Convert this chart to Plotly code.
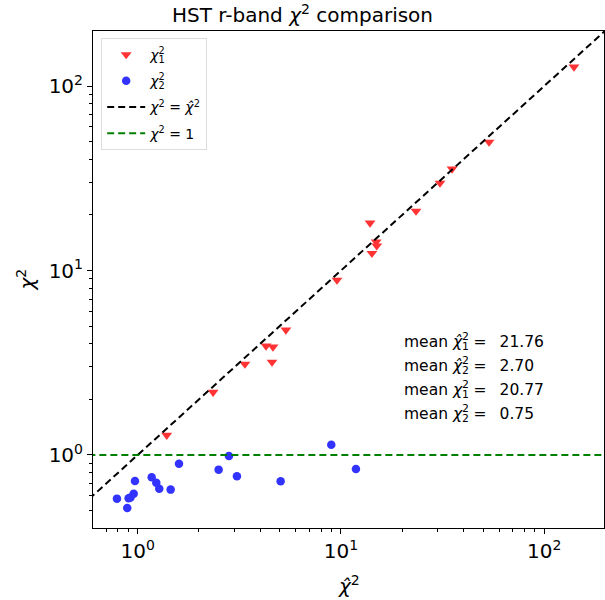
import math
import plotly.graph_objects as go

# ---------------- data ----------------
chi2_hat_1 = [140.0, 53.5, 35.2, 30.7, 23.4, 13.9, 14.9, 15.0, 14.2, 9.56, 5.36, 4.28, 4.63, 4.58, 3.37, 2.35, 1.39]
chi2_1 = [126.8, 49.7, 35.5, 29.8, 21.0, 18.1, 14.3, 13.6, 12.4, 8.88, 4.76, 3.90, 3.85, 3.19, 3.11, 2.19, 1.28]
chi2_hat_2 = [0.791, 0.889, 0.903, 0.922, 0.956, 0.970, 1.172, 1.235, 1.277, 1.453, 1.597, 2.502, 2.812, 3.078, 5.05, 8.96, 11.85]
chi2_2 = [0.580, 0.516, 0.582, 0.588, 0.617, 0.723, 0.757, 0.708, 0.657, 0.649, 0.897, 0.833, 0.988, 0.767, 0.720, 1.137, 0.840]
identity_span = [0.1, 1000.0]
unity_y = [1.0, 1.0]
x_range = [0.603, 196.7]
y_range = [0.402, 198.7]
tick_vals = [1, 10, 100]
tick_text = ["10<sup>0</sup>", "10<sup>1</sup>", "10<sup>2</sup>"]
STACK = "<sup style='letter-spacing:-0.64em'>2</sup><sub>{}</sub>"
mean_labels = ["<i>χ̂</i>" + STACK.format(1), "<i>χ̂</i>" + STACK.format(2),
               "<i>χ</i>" + STACK.format(1), "<i>χ</i>" + STACK.format(2)]
mean_values = ["21.76", "2.70", "20.77", "0.75"]

FONT = "DejaVu Sans"
RED = "rgba(255,51,51,1)"
BLUE = "rgba(51,51,255,1)"

fig = go.Figure()
fig.add_trace(go.Scatter(x=chi2_hat_1, y=chi2_1, mode="markers", legendgroup="a",
                         marker=dict(symbol="triangle-down", size=9.5, color=RED, line=dict(width=0)),
                         name="<i>χ</i>" + STACK.format(1)))
fig.add_trace(go.Scatter(x=chi2_hat_2, y=chi2_2, mode="markers", legendgroup="b",
                         marker=dict(symbol="circle", size=8.5, color=BLUE, line=dict(width=0)),
                         name="<i>χ</i>" + STACK.format(2)))
fig.add_trace(go.Scatter(x=identity_span, y=identity_span, mode="lines", legendgroup="c",
                         line=dict(color="black", width=2, dash="7px,4px"),
                         name="<i>χ</i><sup>2</sup> = <i>χ̂</i><sup>2</sup>"))
fig.add_trace(go.Scatter(x=identity_span, y=unity_y, mode="lines", legendgroup="d",
                         line=dict(color="green", width=2, dash="7px,4px"),
                         name="<i>χ</i><sup>2</sup> = 1"))

axis_common = dict(
    type="log", showgrid=False, zeroline=False,
    showline=True, linecolor="black", linewidth=1, mirror=True,
    ticks="outside", ticklen=5, tickwidth=1, tickcolor="black",
    tickvals=tick_vals, ticktext=tick_text,
    tickfont=dict(family=FONT, size=20, color="black"),
    minor=dict(ticks="outside", ticklen=3, tickwidth=1, tickcolor="black",
               tickvals=[m * 10 ** e for e in range(-1, 3) for m in range(2, 10)]),
)
fig.update_xaxes(range=[math.log10(x_range[0]), math.log10(x_range[1])], **axis_common)
fig.update_yaxes(range=[math.log10(y_range[0]), math.log10(y_range[1])], **axis_common)

annotations = [
    dict(text="<i>χ̂</i><sup>2</sup>", xref="paper", yref="paper", x=0.5, y=0,
         xanchor="center", yanchor="middle", yshift=-57, showarrow=False,
         font=dict(family=FONT, size=20, color="black")),
    dict(text="<i>χ</i><sup>2</sup>", xref="paper", yref="paper", x=0, y=0.5,
         xanchor="center", yanchor="middle", xshift=-68, textangle=-90, showarrow=False,
         font=dict(family=FONT, size=20, color="black")),
]
line_y = [342, 366, 390, 414]
for lab, val, py in zip(mean_labels, mean_values, line_y):
    annotations.append(dict(
        text="mean " + lab + "&#8201;&#8202;=&nbsp;&nbsp;&#8201;" + val, xref="paper", yref="paper",
        x=(402 - 93) / 511, y=(528 - py) / 497, xanchor="left", yanchor="middle",
        showarrow=False, font=dict(family=FONT, size=15.5, color="black")))

fig.update_layout(
    width=605, height=600,
    margin=dict(l=93, r=1, t=31, b=72),
    paper_bgcolor="white", plot_bgcolor="white",
    title=dict(text="HST r-band <i>χ</i><sup>2</sup> comparison", xref="container", x=0.5,
               yref="container", y=1 - 15 / 600, xanchor="center", yanchor="middle",
               font=dict(family=FONT, size=20, color="black")),
    legend=dict(x=0.016, y=0.986, xanchor="left", yanchor="top",
                bgcolor="white", bordercolor="#dddddd", borderwidth=1,
                font=dict(family=FONT, size=14, color="black"),
                tracegroupgap=5, itemwidth=38),
    annotations=annotations,
    showlegend=True,
)

fig.write_html("out.html")
